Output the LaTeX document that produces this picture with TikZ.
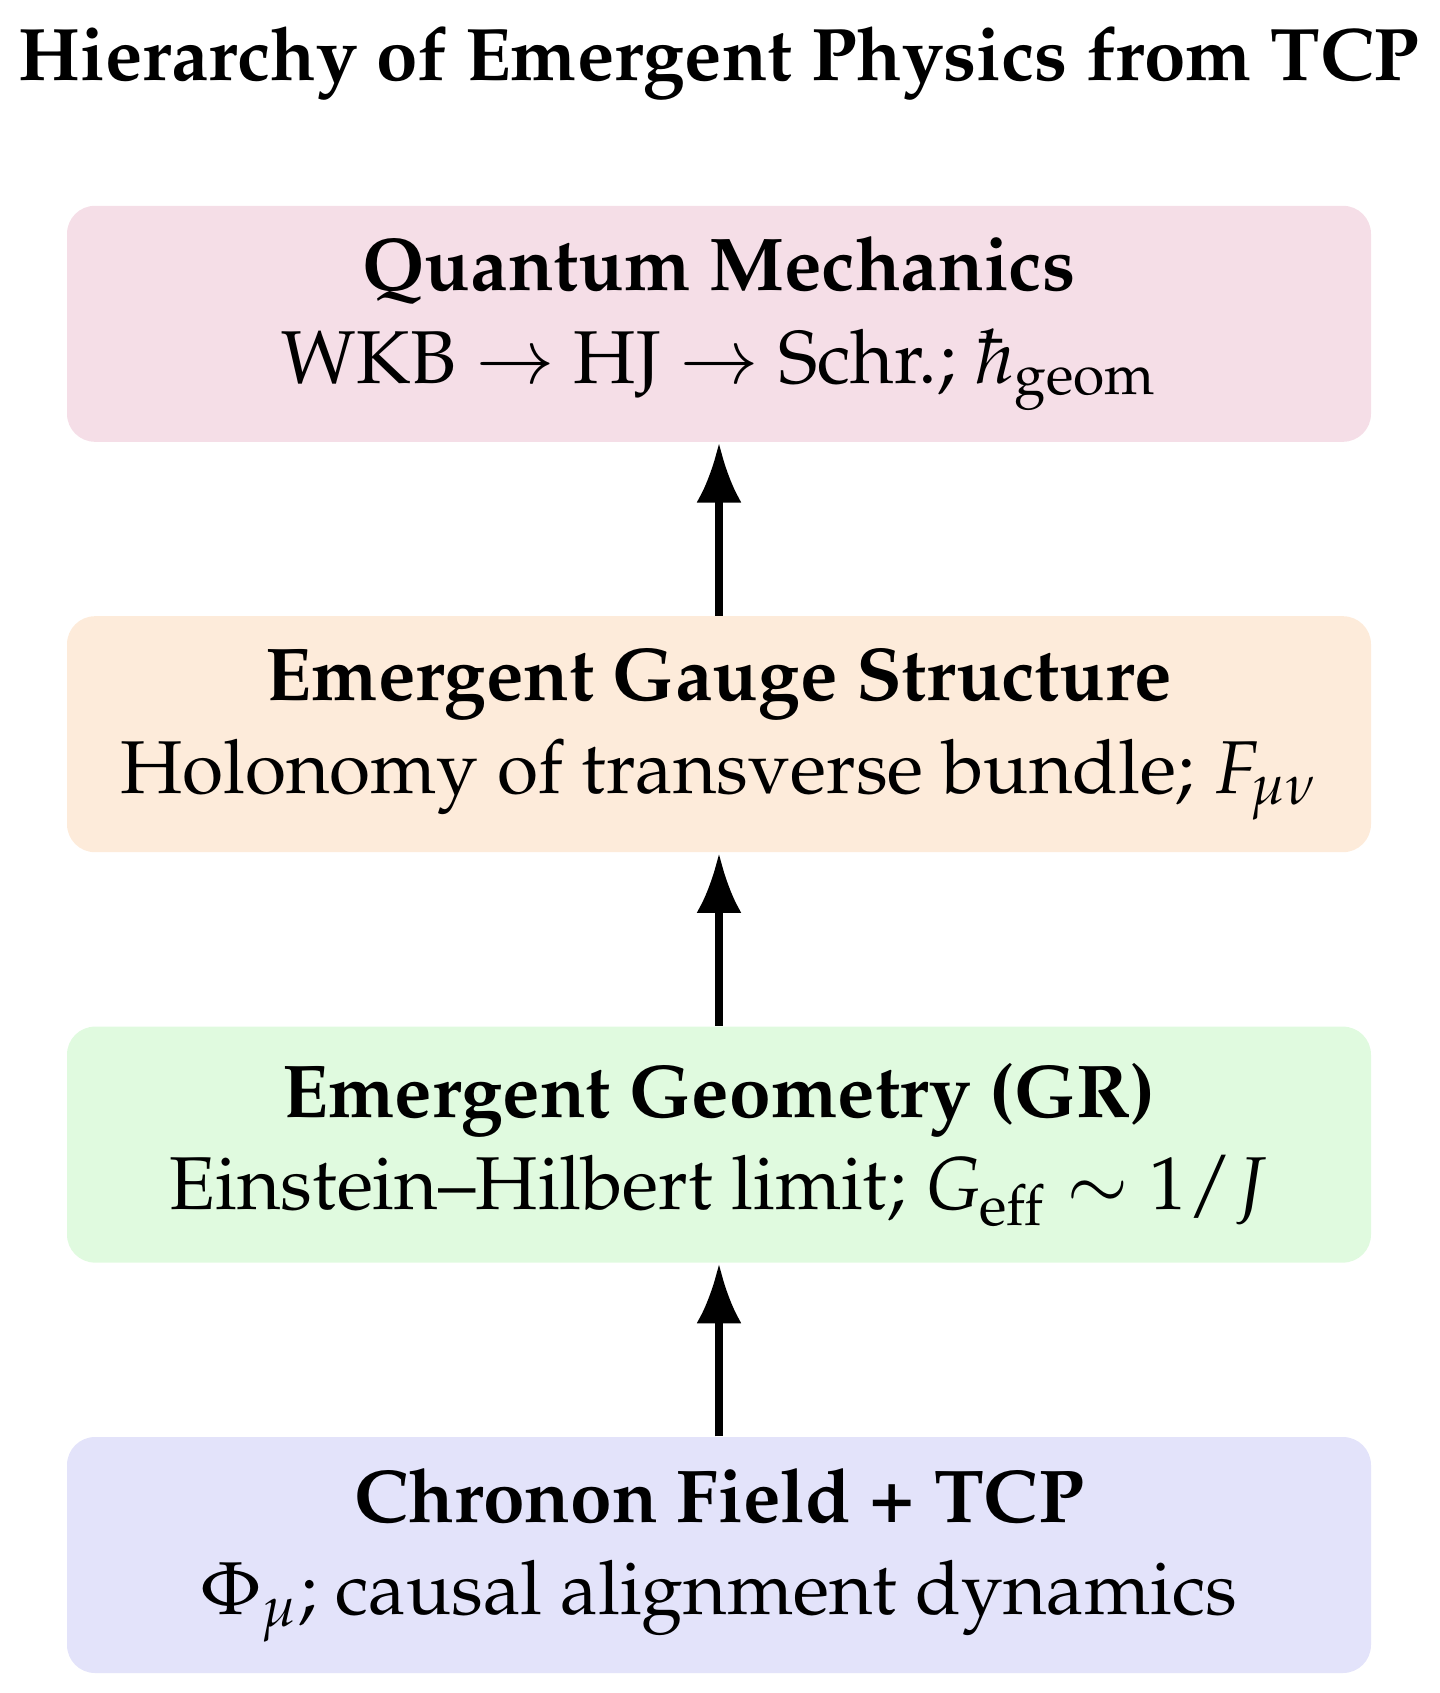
\documentclass[tikz,border=0pt]{standalone}
\usepackage[T1]{fontenc}
\usepackage{mathpazo}
\usetikzlibrary{arrows.meta,positioning}
\definecolor{qmpink}{RGB}{245,222,231}
\definecolor{gaugeorange}{RGB}{253,235,218}
\definecolor{geogreen}{RGB}{224,250,223}
\definecolor{chrblue}{RGB}{227,227,250}

\begin{document}
\begin{tikzpicture}[x=1cm,y=1cm,
  level/.style={rounded corners=0.28cm, minimum width=13.04cm, minimum height=2.36cm,
    inner sep=0pt, align=center, font=\fontsize{21.3}{26.3}\selectfont},
  up/.style={-{Latex[length=0.6cm,width=0.45cm]}, line width=0.08cm}]
\useasboundingbox (0,0) rectangle (14.39,-16.93);

\node[anchor=base, font=\bfseries\fontsize{21.2}{26}\selectfont] (title) at (7.19,-0.80) {Hierarchy of Emergent Physics from TCP};

\node[level, fill=chrblue] (chronon) at (7.19,-15.55) {\textbf{Chronon Field + TCP}\\ $\Phi_\mu$; causal alignment dynamics};
\node[level, fill=geogreen, above=1.73cm of chronon] (geom) {\textbf{Emergent Geometry (GR)}\\ Einstein--Hilbert limit; $G_{\mathrm{eff}}\sim 1/J$};
\node[level, fill=gaugeorange, above=1.73cm of geom] (gauge) {\textbf{Emergent Gauge Structure}\\ Holonomy of transverse bundle; $F_{\mu\nu}$};
\node[level, fill=qmpink, above=1.73cm of gauge] (qm) {\textbf{Quantum Mechanics}\\ WKB $\to$ HJ $\to$ Schr.; $\hbar_{\mathrm{geom}}$};

\draw[up] (chronon) -- (geom);
\draw[up] (geom) -- (gauge);
\draw[up] (gauge) -- (qm);
\end{tikzpicture}
\end{document}
